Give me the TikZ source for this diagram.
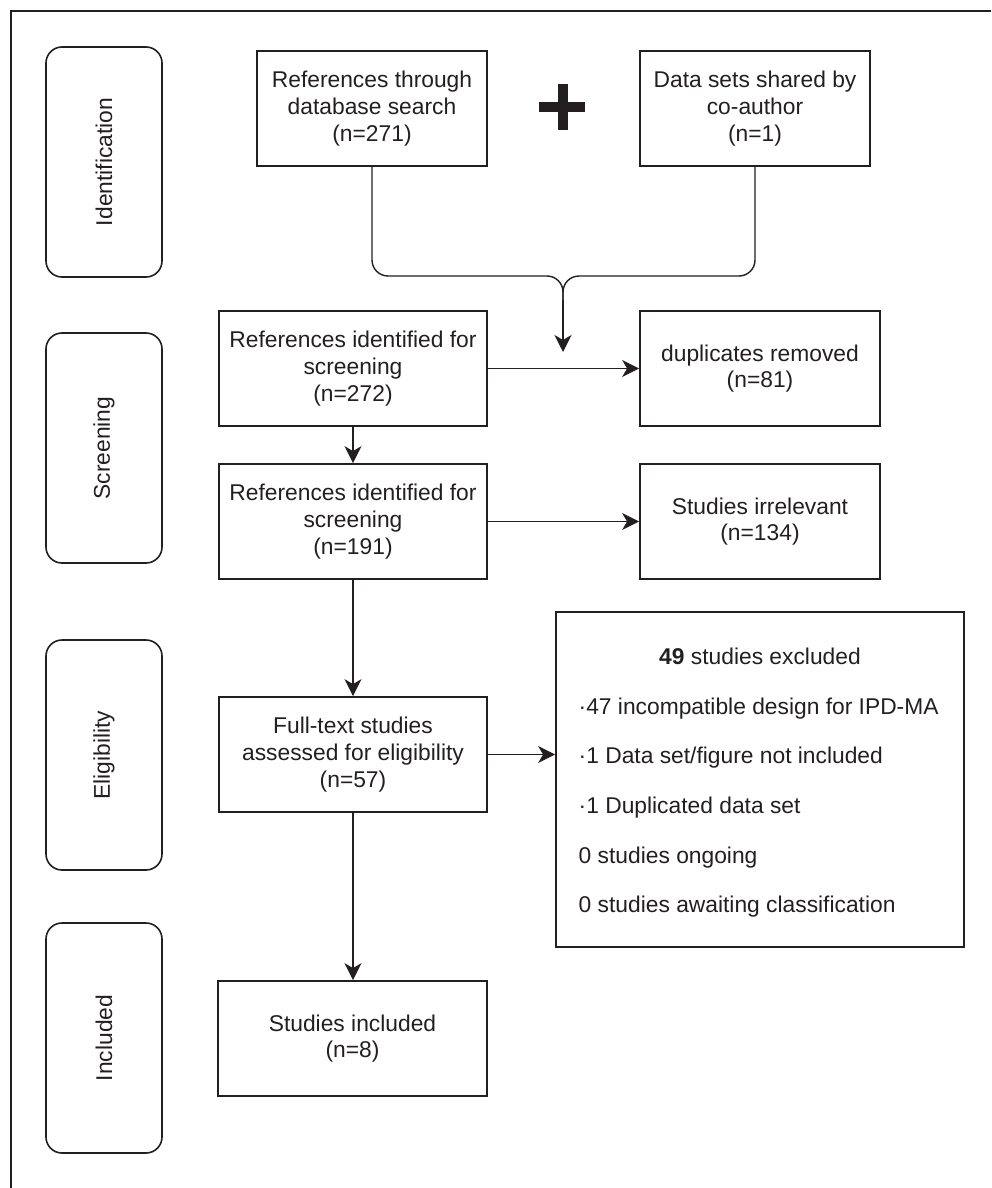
\documentclass[tikz,border=0pt]{standalone}
\usepackage{fontspec}
\setmainfont{Liberation Sans}
\usetikzlibrary{arrows.meta}
\definecolor{ink}{HTML}{231F20}
\begin{document}
\begin{tikzpicture}[x=1pt,y=-1pt,color=ink,line width=1.4pt,
  txt/.style={font=\fontsize{22.8}{26.7}\selectfont},
  box/.style={txt,draw,line width=1.8pt,rectangle,inner sep=0pt,align=center,minimum height=115pt},
  stage/.style={txt,draw,line width=1.6pt,rounded corners=16pt,rotate=90,minimum width=230pt,minimum height=116pt,inner sep=0pt},
  arr/.style={-{Stealth[length=17pt,width=17pt,inset=5pt]}},
  item/.style={txt,anchor=base west,inner sep=0pt}]
\useasboundingbox (0,0) rectangle (991,1188);
% frame
\draw (991,11) -- (11,11) -- (11,1188);
% stage labels
\node[stage] (ident) at (104,162) {Identification};
\node[stage] (screen) at (104,448) {Screening};
\node[stage] (elig) at (104,755) {Eligibility};
\node[stage] (incl) at (104,1038) {Included};
% boxes
\node[box,minimum width=230pt] (b1) at (372,108.5) {References through\\database search\\(n=271)};
\node[box,minimum width=230pt] (b2) at (755,108.5) {Data sets shared by\\co-author\\(n=1)};
\node[box,minimum width=268pt] (b3) at (353,368.5) {References identified for\\screening\\(n=272)};
\node[box,minimum width=240pt] (dup) at (760,368.5) {duplicates removed\\(n=81)};
\node[box,minimum width=268pt] (b4) at (353,521.5) {References identified for\\screening\\(n=191)};
\node[box,minimum width=240pt] (irr) at (760,521.5) {Studies irrelevant\\(n=134)};
\node[box,minimum width=268pt] (ft) at (353,754.5) {Full-text studies\\assessed for eligibility\\(n=57)};
\node[draw,line width=1.8pt,rectangle,inner sep=0pt,minimum width=408pt,minimum height=335pt] (excl) at (760,779.5) {};
\node[box,minimum width=269pt] (inc) at (352.5,1038.5) {Studies included\\(n=8)};
% exclusion list
\node[txt,anchor=base,inner sep=0pt] (ex0) at (760,664) {\textbf{49} studies excluded};
\node[item] (ex1) at (578,714) {·47 incompatible design for IPD-MA};
\node[item] (ex2) at (578,763) {·1 Data set/figure not included};
\node[item] (ex3) at (578,813) {·1 Duplicated data set};
\node[item] (ex4) at (578,863) {0 studies ongoing};
\node[item] (ex5) at (578,912) {0 studies awaiting classification};
% plus sign
\fill (557.5,84) rectangle (567.5,130);
\fill (539,102) rectangle (585,112);
% merging connector
\coordinate (join) at (563,276);
\coordinate (mg) at (563,300);
\coordinate (tip) at (563,352);
\draw[rounded corners=16pt] (b1.south) |- (join) -- (mg);
\draw[rounded corners=16pt] (b2.south) |- (join) -- (mg);
\draw[arr] (mg) -- (tip);
% arrows
\draw[arr] (b3.east) -- (dup.west);
\draw[arr] (b3.south) -- (b4.north);
\draw[arr] (b4.east) -- (irr.west);
\draw[arr] (b4.south) -- (ft.north);
\draw[arr] (ft.east) -- (ft.east -| excl.west);
\draw[arr] (ft.south) -- (ft.south |- inc.north);
\end{tikzpicture}
\end{document}
